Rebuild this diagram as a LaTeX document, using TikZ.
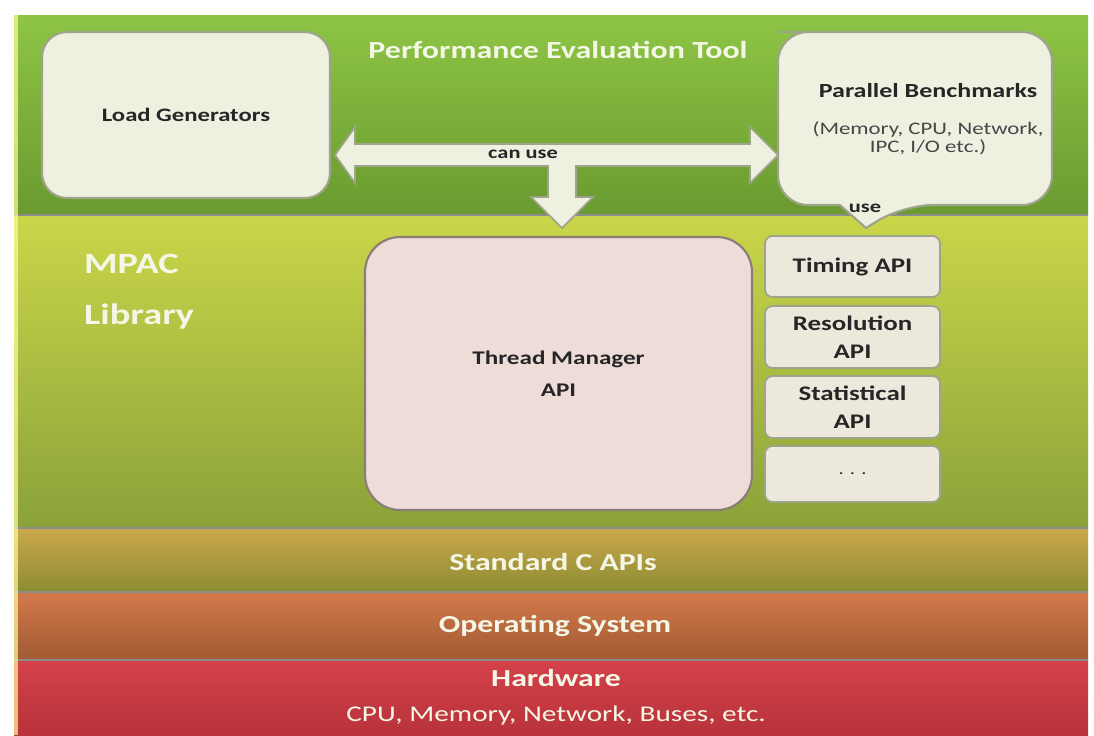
\documentclass[tikz,border=0pt]{standalone}
\usepackage{fontspec}
\setmainfont{Carlito}[FakeStretch=1.3]
\definecolor{gAt}{HTML}{8EC545}
\definecolor{gAb}{HTML}{6A9A30}
\definecolor{gBt}{HTML}{CAD649}
\definecolor{gBb}{HTML}{8AA23A}
\definecolor{gCt}{HTML}{CCA84C}
\definecolor{gCb}{HTML}{8C8C32}
\definecolor{gDt}{HTML}{D47A4C}
\definecolor{gDb}{HTML}{A05A32}
\definecolor{gEt}{HTML}{D4424A}
\definecolor{gEb}{HTML}{B8323A}
\definecolor{boxfill}{HTML}{EEF0E0}
\definecolor{boxline}{HTML}{9EA48C}
\definecolor{pinkfill}{HTML}{EDDCD8}
\definecolor{pinkline}{HTML}{8C7C78}
\definecolor{apifill}{HTML}{ECE8DC}
\definecolor{txtlight}{HTML}{F4F6E6}
\definecolor{txtdark}{HTML}{262626}
\begin{document}
\begin{tikzpicture}[x=0.02cm,y=-0.02cm,
  lbox/.style={draw=boxline,line width=1.2pt,fill=boxfill,rounded corners=0.5cm,inner sep=0pt},
  tmbox/.style={draw=pinkline,line width=1.2pt,fill=pinkfill,rounded corners=0.7cm,inner sep=0pt,
     minimum width=7.74cm,minimum height=5.46cm,align=center,text=txtdark,
     font=\fontsize{11pt}{18pt}\selectfont\bfseries},
  apibox/.style={draw=boxline,line width=1pt,fill=apifill,rounded corners=0.15cm,inner sep=0pt,
     minimum width=3.5cm,align=center,text=txtdark,
     font=\fontsize{11.8pt}{16pt}\selectfont\bfseries},
  layertxt/.style={text=txtlight,font=\fontsize{13.9pt}{16pt}\selectfont\bfseries},
  blockarrow/.style={draw=boxline,line width=1pt,fill=boxfill}]
\useasboundingbox (0,0) rectangle (1094,735);
\fill[white] (0,0) rectangle (1094,735);
% layers
\shade[top color=gAt,bottom color=gAb] (14,15) rectangle (1088,215);
\shade[top color=gBt,bottom color=gBb] (14,215) rectangle (1088,528);
\shade[top color=gCt,bottom color=gCb] (14,528) rectangle (1088,592);
\shade[top color=gDt,bottom color=gDb] (14,592) rectangle (1088,660);
\shade[top color=gEt,bottom color=gEb] (14,660) rectangle (1088,735);
\foreach \yy in {215,528,592,660} \draw[black!45,line width=0.8pt] (14,\yy) -- (1088,\yy);
\fill[yellow!40!white,opacity=0.7] (14,15) rectangle (18,735);

% titles
\node[layertxt,font=\fontsize{14pt}{16pt}\selectfont\bfseries] (pet) at (558,50) {Performance Evaluation Tool};
\node[layertxt,anchor=west,align=left,font=\fontsize{16.8pt}{29pt}\selectfont\bfseries] (mpac) at (78,292) {MPAC\\Library};
\node[layertxt] (stdc) at (553,562) {Standard C APIs};
\node[layertxt] (os) at (555,626) {Operating System};
\node[layertxt] (hw) at (556,678) {Hardware};
\node[text=txtlight,font=\fontsize{12.8pt}{15pt}\selectfont] (hwd) at (556,715) {CPU, Memory, Network, Buses, etc.};

% load generators
\node[lbox,minimum width=5.76cm,minimum height=3.32cm,text=txtdark,
  font=\fontsize{10.8pt}{13pt}\selectfont\bfseries] (lg) at (186,115) {Load Generators};

% parallel benchmarks callout
\coordinate (pbtip) at (866,228);
\path[lbox,rounded corners=0.6cm] (808,32) -- (1052,32) -- (1052,205) -- (903,205)
   [sharp corners] -- (pbtip) -- (840,205) [rounded corners=0.6cm] -- (778,205) -- (778,32) -- cycle;
\node[text=txtdark,font=\fontsize{11.4pt}{12pt}\selectfont\bfseries] (pb) at (928,91) {Parallel Benchmarks};
\node[text=txtdark!85,align=center,font=\fontsize{10pt}{10.4pt}\selectfont] (pbd) at (928,138) {(Memory, CPU, Network,\\IPC, I/O etc.)};
\node[text=txtdark,font=\fontsize{9.8pt}{11pt}\selectfont\bfseries] (use) at (865,208) {use};

% thread manager and APIs
\node[tmbox] (tm) at (558.5,373.5) {Thread Manager\\API};
\node[apibox,minimum height=1.22cm] (timing) at (852.5,266.5) {Timing API};
\node[apibox,minimum height=1.24cm] (res) at (852.5,337) {Resolution\\API};
\node[apibox,minimum height=1.24cm] (stat) at (852.5,407) {Statistical\\API};
\node[apibox,minimum height=1.12cm,font=\fontsize{9pt}{11pt}\selectfont] (dots) at (852.5,474) {. . .};

% block arrow (double horizontal with branch down)
\coordinate (la) at (335,155);
\coordinate (ra) at (778,155);
\coordinate (da) at (562,228);
\path[blockarrow]
  (la) -- (355,127) -- (355,144) -- (750,144) -- (750,127)
  -- (ra) -- (750,183) -- (750,166) -- (576,166) -- (576,197) -- (593,197) -- (da)
  -- (531,197) -- (548,197) -- (548,166) -- (355,166) -- (355,183) -- cycle;
\node[text=txtdark,font=\fontsize{9.8pt}{11pt}\selectfont\bfseries] (canuse) at (523,154) {can use};
\end{tikzpicture}
\end{document}
